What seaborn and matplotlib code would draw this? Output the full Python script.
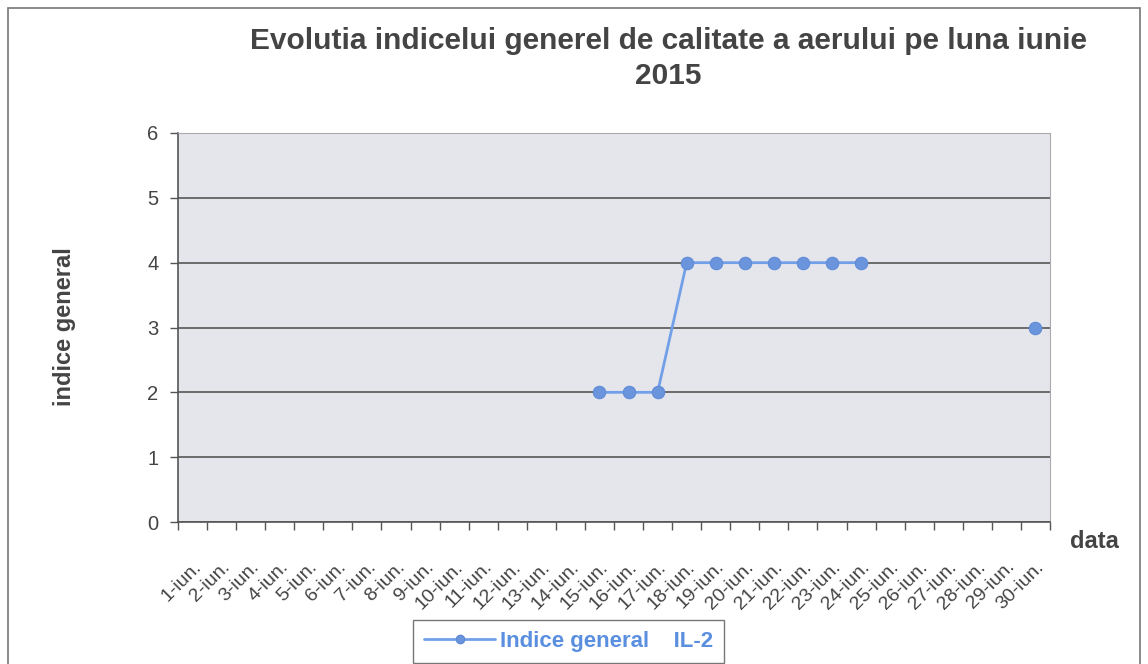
import matplotlib
matplotlib.use("Agg")
import matplotlib.pyplot as plt
import matplotlib.transforms as mtransforms
from matplotlib.lines import Line2D
from matplotlib.patches import Rectangle
import numpy as np
import pandas as pd
import seaborn as sns

# date din grafic
zile = [f"{i}-iun." for i in range(1, 31)]
indice = [np.nan] * 14 + [2, 2, 2, 4, 4, 4, 4, 4, 4, 4] + [np.nan] * 5 + [3]

titlu = "Evolutia indicelui generel de calitate a aerului pe luna iunie\n2015"
eticheta_serie = "Indice general    IL-2"

sns.set_theme(style="white")
plt.rcParams["font.family"] = ["Liberation Sans", "DejaVu Sans"]

culoare_linie = "#72a0e8"
culoare_text = "#444444"

df = pd.DataFrame({"zi": np.arange(len(zile)), "indice": indice})
# segmente continue (linia se intrerupe unde lipsesc valori)
df["segment"] = df["indice"].isna().cumsum()
df = df.dropna()

fig = plt.figure(figsize=(11.48, 6.64), dpi=100)
fig.patch.set_facecolor("white")
fig.patches.append(Rectangle((8 / 1148, -0.01), 1132 / 1148, 1 - 8 / 664 + 0.01,
                             transform=fig.transFigure, fill=False,
                             edgecolor="#777777", linewidth=1.2))

ax = fig.add_axes([178 / 1148, 1 - 522 / 664, 872 / 1148, 389 / 664])
ax.set_facecolor("#e5e5ec")

sns.lineplot(data=df, x="zi", y="indice", units="segment", estimator=None,
             color=culoare_linie, linewidth=2, marker="o", markersize=9,
             markeredgecolor="#5f8bd6", markerfacecolor="#6a94dc", ax=ax)

ax.set_xlim(-0.5, len(zile) - 0.5)
ax.set_ylim(0, 6)
ax.set_yticks(range(0, 7))
ax.yaxis.grid(True, color="#4a4a4a", linewidth=1.1)
ax.set_axisbelow(True)

ax.set_xticks(range(len(zile)))
ax.set_xticklabels(zile, rotation=45, ha="right", rotation_mode="anchor",
                   fontsize=14, color=culoare_text)
deplasare = mtransforms.ScaledTranslation(5 / 100, 0, fig.dpi_scale_trans)
for lbl in ax.get_xticklabels():
    lbl.set_transform(lbl.get_transform() + deplasare)
ax.set_xticks(np.arange(-0.5, len(zile)), minor=True)
ax.tick_params(axis="x", which="major", length=0, pad=26)
ax.tick_params(axis="x", which="minor", length=6, width=1, color="#555555",
               direction="out", bottom=True)
ax.tick_params(axis="y", length=6, width=1, color="#555555", direction="out",
               left=True, labelsize=14.5, labelcolor=culoare_text, pad=8)

for s in ["left", "bottom"]:
    ax.spines[s].set_color("#555555")
    ax.spines[s].set_linewidth(1.2)
for s in ["top", "right"]:
    ax.spines[s].set_color("#aaaaaa")
    ax.spines[s].set_linewidth(0.8)

ax.set_xlabel("")
ax.set_ylabel("")

fig.text(668 / 1148, 1 - 27 / 664, titlu, ha="center", va="top",
         fontsize=21.5, fontweight="bold", color=culoare_text, linespacing=1.3)
fig.text(64 / 1148, 1 - 327 / 664, "indice general", rotation=90,
         ha="center", va="center", fontsize=17, fontweight="bold",
         color=culoare_text)
fig.text(1094 / 1148, 1 - 541 / 664, "data", ha="center", va="center",
         fontsize=17, fontweight="bold", color=culoare_text)

handle = Line2D([], [], color=culoare_linie, linewidth=2, marker="o",
                markersize=6, markerfacecolor="#6a94dc",
                markeredgecolor="#5f8bd6")
leg = fig.legend([handle], [eticheta_serie], loc="upper left",
                 bbox_to_anchor=(413 / 1148, 1 - 620 / 664),
                 frameon=True, fancybox=False, fontsize=16,
                 handlelength=3.2, borderpad=0.5, handletextpad=0.2,
                 borderaxespad=0)
leg.get_frame().set_edgecolor("#555555")
leg.get_frame().set_linewidth(1)
for t in leg.get_texts():
    t.set_color("#5a8fe0")
    t.set_fontweight("bold")

fig.savefig("out.png", dpi=100)
